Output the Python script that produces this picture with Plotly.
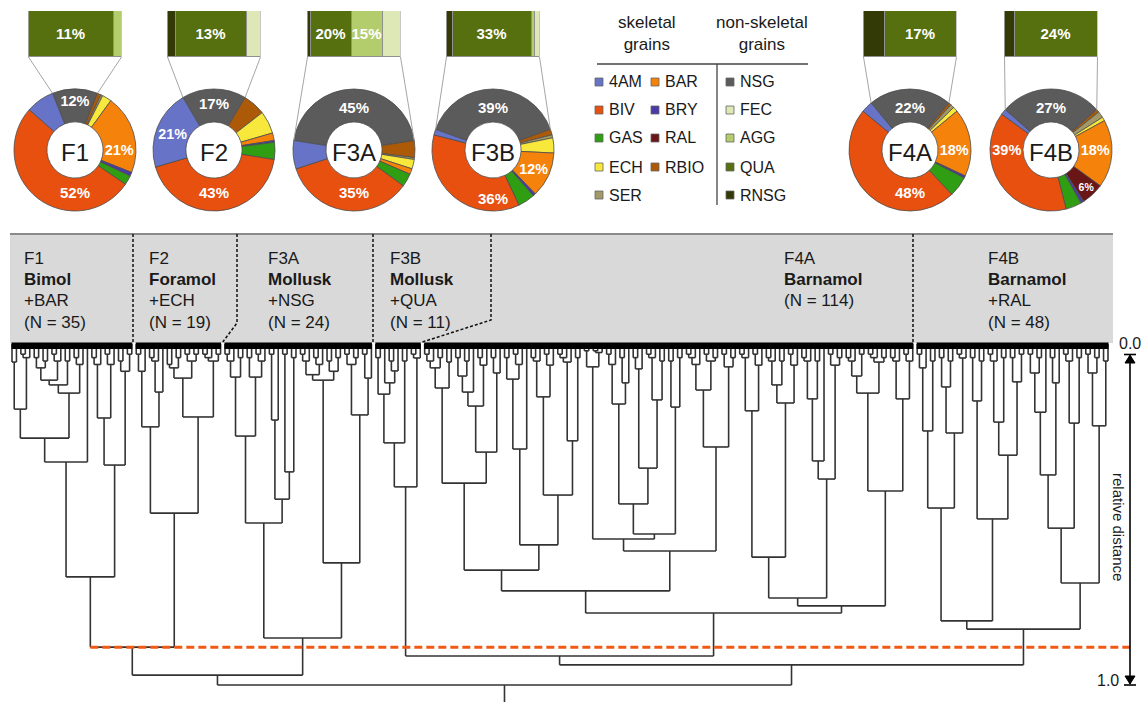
import math
import re
import plotly.graph_objects as go

W, H = 1146, 702
FONT = "Liberation Sans, Arial, Helvetica, sans-serif"
INK = "#1a1a1a"

# ---------------- grain composition of each facies (% of all grains) ----------------
FACIES = ["F1", "F2", "F3A", "F3B", "F4A", "F4B"]
GRAIN_TYPES = ["NSG", "RBIO", "SER", "ECH", "BAR", "RAL", "BRY", "GAS", "BIV", "4AM"]
F1_GRAINS = [12, 1, 0.5, 2.5, 21, 0, 1, 2.5, 52, 7.5]
F2_GRAINS = [17, 6, 0, 6, 2, 0, 0.5, 4.5, 43, 21]
F3A_GRAINS = [45, 4.5, 0.5, 2.5, 1.5, 0, 0, 3.5, 35, 7.5]
F3B_GRAINS = [39, 1.5, 0.8, 4, 12, 0, 0.7, 4.5, 36, 1.5]
F4A_GRAINS = [22, 0.7, 1, 1.3, 18, 0, 0.6, 5.4, 48, 3]
F4B_GRAINS = [27, 0.8, 1.7, 1, 18, 6, 0.8, 4.2, 39, 1.5]
GRAINS = dict(zip(FACIES, [F1_GRAINS, F2_GRAINS, F3A_GRAINS, F3B_GRAINS, F4A_GRAINS, F4B_GRAINS]))

# breakdown of the non-skeletal grains (NSG), % of all grains
NSG_TYPES = ["RNSG", "QUA", "AGG", "FEC"]
F1_NSG = [0, 11, 1, 0]
F2_NSG = [1.5, 13, 0, 2.5]
F3A_NSG = [1.5, 20, 15, 8.5]
F3B_NSG = [2.5, 33, 1.5, 2]
F4A_NSG = [5, 17, 0, 0]
F4B_NSG = [3, 24, 0, 0]
NSG_SPLIT = dict(zip(FACIES, [F1_NSG, F2_NSG, F3A_NSG, F3B_NSG, F4A_NSG, F4B_NSG]))

LABEL_MIN = 10          # slices below this share stay unlabelled ...
ALWAYS_LABEL = {"RAL"}  # ... except the red-algae slice

COLORS = {
    "4AM": "#6673c6", "BAR": "#f5820a", "BIV": "#e8500f", "BRY": "#4a3aa8",
    "GAS": "#2f9e12", "RAL": "#6b1616", "ECH": "#f8e83c", "RBIO": "#ad5a08",
    "SER": "#a39968", "NSG": "#5b5b5b", "FEC": "#dde8b6", "AGG": "#b4cd6c",
    "QUA": "#566f0f", "RNSG": "#333a06",
}

LEGEND_SKELETAL = [["4AM", "BIV", "GAS", "ECH", "SER"], ["BAR", "BRY", "RAL", "RBIO"]]
LEGEND_NON_SKELETAL = ["NSG", "FEC", "AGG", "QUA", "RNSG"]

CLUSTER_TEXT = [
    ["F1", "<b>Bimol</b>", "+BAR", "(N = 35)"],
    ["F2", "<b>Foramol</b>", "+ECH", "(N = 19)"],
    ["F3A", "<b>Mollusk</b>", "+NSG", "(N = 24)"],
    ["F3B", "<b>Mollusk</b>", "+QUA", "(N = 11)"],
    ["F4A", "<b>Barnamol</b>", "(N = 114)"],
    ["F4B", "<b>Barnamol</b>", "+RAL", "(N = 48)"],
]

# ---------------- cluster tree, heights in relative distance ----------------
# 'o' is one sample, "(a,b)h" merges a and b at distance h, {name} inserts a named subtree
TREE = {
    "ROOT": "((({F1},{F2})0.889,{F3A})0.971,(({F3B},{F4A})0.915,{F4B})0.941)1.0",
    # F1
    "F1a": "((o,o)0.053,((o,o)0.03,o)0.04)0.191",
    "F1b": "(((((o,o)0.04,(o,o)0.05)0.07,((o,o)0.03,o)0.05)0.106,(o,o)0.05)0.12,((o,o)0.04,o)0.06)0.144",
    "F1c": "((((o,o)0.04,o)0.06,((o,o)0.03,o)0.06)0.217,((o,o)0.05,(o,o)0.03)0.08)0.355",
    "F1": "((({F1a},{F1b})0.276,o)0.346,{F1c})0.683",
    # F2
    "F2a": "(((o,o)0.03,o)0.08,(((o,o)0.04,o)0.05,o)0.141)0.243",
    "F2b": "((((o,o)0.06,(o,o)0.04)0.07,((o,o)0.03,(o,o)0.03)0.05)0.1,(((o,o)0.03,o)0.04,(o,o)0.03)0.05)0.214",
    "F2": "({F2a},{F2b})0.496",
    # F3A
    "F3Aa": "((((o,o)0.03,o)0.05,(o,o)0.04)0.097,((o,o)0.04,((o,o)0.03,o)0.05)0.097)0.27",
    "F3Ab": "(((o,o)0.03,o)0.223,((o,o)0.03,(o,o)0.04)0.375)0.455",
    "F3Ac": "((((o,o)0.03,o)0.05,((o,o)0.04,o)0.06)0.09,((o,o)0.05,(o,o)0.04)0.08)0.106",
    "F3Ad": "(((o,o)0.03,(o,o)0.04)0.06,((o,o)0.03,o)0.1)0.208",
    "F3A": "(({F3Aa},{F3Ab})0.525,({F3Ac},{F3Ad})0.642)0.862",
    # F3B
    "F3Ba": "((o,o)0.04,(o,((o,o)0.05,o)0.079)0.114)0.147",
    "F3B": "(({F3Ba},(o,o)0.05)0.29,((o,o)0.03,o)0.041)0.419",
    # F4A
    "a388": "((((o,o)0.03,o)0.05,(o,o)0.04)0.07,(o,o)0.053)0.129",
    "a392": "(((o,o)0.04,(o,o)0.05)0.094,o)0.141",
    "a406": "({a392},((o,o)0.04,o)0.062)0.182",
    "a452": "({a406},((o,o)0.04,o)0.085)0.317",
    "a483": "({a388},{a452})0.408",
    "a449": "(((o,o)0.04,((o,o)0.03,o)0.06)0.103,o)0.308",
    "a397": "(((o,o)0.04,o)0.05,((o,o)0.03,o)0.062)0.155",
    "a441": "((((o,o)0.03,o)0.04,o)0.053,(o,o)0.04)0.284",
    "a545": "({a449},({a397},{a441})0.443)0.589",
    "a570": "({a483},{a545})0.663",
    "a367": "((o,o)0.02,((o,o)0.02,o)0.025)0.067",
    "a404": "(((o,o)0.03,o)0.06,((o,o)0.04,o)0.114)0.176",
    "a468": "(((o,o)0.04,o)0.073,(((o,o)0.03,o)0.04,(o,o)0.05)0.164)0.364",
    "a534": "(({a404},{a468})0.469,((o,o)0.05,(o,o)0.04)0.185)0.557",
    "a390": "((((o,o)0.03,o)0.04,o)0.06,((o,o)0.03,(o,o)0.04)0.05)0.135",
    "a447": "({a390},((o,o)0.03,(o,o)0.04)0.067)0.302",
    "a551": "(({a367},{a534})0.572,{a447})0.607",
    "a411": "(((o,o)0.03,o)0.04,((o,o)0.03,o)0.062)0.196",
    "a403": "((((o,o)0.04,o)0.05,(o,o)0.05)0.12,((o,o)0.03,o)0.062)0.173",
    "a461": "((((o,o)0.04,o)0.05,(o,o)0.05)0.161,o)0.343",
    "a598": "(({a411},{a403})0.625,({a461},((o,o)0.03,(o,o)0.04)0.062)0.396)0.745",
    "a393": "((((o,o)0.04,o)0.05,(o,o)0.03)0.094,(((o,o)0.03,o)0.04,(o,o)0.04)0.053)0.144",
    "a399": "(((o,o)0.04,o)0.05,((o,o)0.03,o)0.05)0.161",
    "F4A": "(({a570},{a551})0.724,({a598},({a393},{a399})0.431)0.768)0.789",
    # F4B
    "b431": "(((o,o)0.03,o)0.07,(o,o)0.05)0.255",
    "b433": "(((o,o)0.04,(o,o)0.05)0.126,((o,o)0.03,o)0.041)0.261",
    "b401": "((o,o)0.04,(o,o)0.05)0.167",
    "b455": "((((o,o)0.03,o)0.05,(o,o)0.04)0.229,((o,o)0.04,(o,o)0.03)0.111)0.326",
    "b475": "((((o,o)0.03,(o,o)0.04)0.085,o)0.2,((o,o)0.04,o)0.114)0.384",
    "b423": "(((o,o)0.03,o)0.05,(o,o)0.04)0.232",
    "b428": "(((o,o)0.03,(o,o)0.04)0.085,(o,o)0.05)0.24",
    "F4B": "((({b431},{b433})0.481,({b401},{b455})0.513)0.812,(({b475},{b423})0.54,{b428})0.701)0.836",
}
CUT_DISTANCE = 0.889

# ---------------- layout constants (pixels) ----------------
PIE_CX = [75, 214, 354, 493, 910, 1051]
PIE_CY, PIE_R, PIE_HOLE = 150, 61, 0.46
BAR_W, BAR_TOP, BAR_BOTTOM = 93, 11, 57
LEAF_FIRST_PX, LEAF_LAST_PX = 12, 1108
DIST0_PX, DIST1_PX = 344, 685
BOX_LEFT, BOX_RIGHT, BOX_TOP, BOX_BOTTOM = 10, 1113, 234, 343
CLUSTER_TEXT_X = [22, 147, 266, 388, 782, 986]
CLUSTER_TEXT_Y = [258, 279.5, 301, 322.5]
DIVIDER_TOP_X = [133, 237, 373, 491, 913]
DIVIDER_KNEE_Y = [None, 323, None, 320, None]
AXIS_X = 1130


def px(x, y):
    return x / W, 1 - y / H


# ---------------- tree parsing and layout ----------------
def build(name):
    s = re.sub(r"\s+", "", TREE[name])
    pos = 0

    def node():
        nonlocal pos
        if s[pos] == "(":
            pos += 1
            kids = [node()]
            while s[pos] == ",":
                pos += 1
                kids.append(node())
            pos += 1
            m = re.match(r"\d+(\.\d+)?", s[pos:])
            pos += m.end()
            return {"h": float(m.group()), "kids": kids}
        if s[pos] == "{":
            end = s.index("}", pos)
            ref = s[pos + 1:end]
            pos = end + 1
            sub = build(ref)
            sub["name"] = ref
            return sub
        pos += 1
        return {"h": 0.0, "kids": []}

    return node()


root = build("ROOT")
counter = [0]
named = {}


def place(n):
    if not n["kids"]:
        n["x"] = n["lo"] = n["hi"] = counter[0]
        counter[0] += 1
    else:
        for k in n["kids"]:
            place(k)
        n["x"] = (n["kids"][0]["x"] + n["kids"][-1]["x"]) / 2
        n["lo"], n["hi"] = n["kids"][0]["lo"], n["kids"][-1]["hi"]
    if "name" in n:
        named[n["name"]] = n


place(root)
n_leaves = counter[0]
step = (LEAF_LAST_PX - LEAF_FIRST_PX) / (n_leaves - 1)

xs, ys = [], []


def segments(n):
    for k in n["kids"]:
        xs.extend([k["x"], k["x"], None])
        ys.extend([k["h"], n["h"], None])
        segments(k)
    if n["kids"]:
        xs.extend([n["kids"][0]["x"], n["kids"][-1]["x"], None])
        ys.extend([n["h"], n["h"], None])


segments(root)


def dist_of_px(ypx):
    return (ypx - DIST0_PX) / (DIST1_PX - DIST0_PX)


def leafpos_of_px(xpx):
    return (xpx - LEAF_FIRST_PX) / step


def px_of_leafpos(v):
    return LEAF_FIRST_PX + v * step


# stem from the root down to the lower edge
xs.extend([root["x"], root["x"], None])
ys.extend([root["h"], dist_of_px(H), None])

fig = go.Figure()
fig.add_trace(go.Scatter(x=xs, y=ys, mode="lines", line=dict(color="#333333", width=1.6),
                         hoverinfo="skip", showlegend=False))
fig.add_trace(go.Scatter(x=[named["F1"]["x"], leafpos_of_px(AXIS_X)], y=[CUT_DISTANCE, CUT_DISTANCE],
                         mode="lines", line=dict(color="#f05a14", width=3, dash="8px,4px"),
                         hoverinfo="skip", showlegend=False))

shapes, annotations = [], []

# grey header box with the facies descriptions
x0, y0 = px(BOX_LEFT, BOX_BOTTOM)
x1, y1 = px(BOX_RIGHT, BOX_TOP)
shapes.append(dict(type="rect", xref="paper", yref="paper", x0=x0, x1=x1, y0=y0, y1=y1,
                   fillcolor="#d9d9d9", line=dict(width=0), layer="below"))
shapes.append(dict(type="line", xref="paper", yref="paper", x0=x0, x1=x1, y0=y1, y1=y1,
                   line=dict(color="#8a8a8a", width=2)))

# black bars marking each cluster, dashed separators between them
for fac in FACIES:
    n = named[fac]
    shapes.append(dict(type="rect", xref="x", yref="y", x0=n["lo"] - 0.12, x1=n["hi"] + 0.12,
                       y0=dist_of_px(342.5), y1=dist_of_px(349), fillcolor="black", line=dict(width=0)))
for i in range(len(FACIES) - 1):
    gap = (named[FACIES[i]]["hi"] + named[FACIES[i + 1]]["lo"]) / 2
    bx = px_of_leafpos(gap)
    tx = DIVIDER_TOP_X[i]
    pts = [(tx, BOX_TOP)]
    if DIVIDER_KNEE_Y[i] is not None:
        pts.append((tx, DIVIDER_KNEE_Y[i]))
        pts.append((bx, 342))
    else:
        pts.append((tx, 342))
    path = "M" + " L".join(f"{px(a, b)[0]:.5f},{px(a, b)[1]:.5f}" for a, b in pts)
    shapes.append(dict(type="path", xref="paper", yref="paper", path=path,
                       line=dict(color="#111111", width=1.5, dash="3px,2px")))

for i, lines in enumerate(CLUSTER_TEXT):
    for j, t in enumerate(lines):
        ax, ay = px(CLUSTER_TEXT_X[i], CLUSTER_TEXT_Y[j])
        annotations.append(dict(x=ax, y=ay, xref="paper", yref="paper", text=t, showarrow=False,
                                xanchor="left", yanchor="middle",
                                font=dict(family=FONT, size=17, color=INK)))

# distance scale on the right
ax0, ay0 = px(AXIS_X, 356)
_, ay1 = px(AXIS_X, 684)
shapes.append(dict(type="line", xref="paper", yref="paper", x0=ax0, x1=ax0, y0=ay0, y1=ay1,
                   line=dict(color="black", width=1.6)))
for tip, base, bar in [(355, 363, 354.5), (684, 676, 685)]:
    p = [px(AXIS_X - 5, base), px(AXIS_X, tip), px(AXIS_X + 5, base)]
    shapes.append(dict(type="path", xref="paper", yref="paper",
                       path=f"M{p[0][0]},{p[0][1]} L{p[1][0]},{p[1][1]} L{p[2][0]},{p[2][1]} Z",
                       fillcolor="black", line=dict(color="black", width=1)))
    b0, b1 = px(AXIS_X - 6, bar), px(AXIS_X + 6, bar)
    shapes.append(dict(type="line", xref="paper", yref="paper", x0=b0[0], x1=b1[0], y0=b0[1], y1=b1[1],
                       line=dict(color="black", width=1.6)))
for t, (tx, ty), anchor in [("0.0", (1117, 343), "left"), ("1.0", (1121, 680), "right")]:
    a = px(tx, ty)
    annotations.append(dict(x=a[0], y=a[1], xref="paper", yref="paper", text=t, showarrow=False,
                            xanchor=anchor, yanchor="middle", font=dict(family=FONT, size=16, color=INK)))
a = px(1119, 527)
annotations.append(dict(x=a[0], y=a[1], xref="paper", yref="paper", text="relative distance",
                        showarrow=False, textangle=90, xanchor="center", yanchor="middle",
                        font=dict(family=FONT, size=15, color=INK)))

# ---------------- pies with the NSG breakdown bar above each ----------------
nsg_i = GRAIN_TYPES.index("NSG")
layout_axes = {}
for i, fac in enumerate(FACIES):
    vals = GRAINS[fac]
    cats = [c for c, v in zip(GRAIN_TYPES, vals) if v > 0]
    vs = [v for v in vals if v > 0]
    text = [f"{v:g}%" if (v >= LABEL_MIN or c in ALWAYS_LABEL) else "" for c, v in zip(cats, vs)]
    cx = PIE_CX[i]
    dx0, dy0 = px(cx - PIE_R, PIE_CY + PIE_R)
    dx1, dy1 = px(cx + PIE_R, PIE_CY - PIE_R)
    half = vals[nsg_i] / sum(vals) * 180
    fig.add_trace(go.Pie(
        values=vs, labels=cats, text=text, textinfo="text", sort=False,
        direction="clockwise", rotation=-half, hole=PIE_HOLE,
        marker=dict(colors=[COLORS[c] for c in cats], line=dict(color="#4d4d4d", width=0.8)),
        domain=dict(x=[dx0, dx1], y=[dy0, dy1]),
        textposition="inside", insidetextorientation="horizontal",
        insidetextfont=dict(family=FONT, size=15, color="white", weight="bold"),
        title=dict(text=fac, position="middle center", font=dict(family=FONT, size=24, color=INK)),
        showlegend=False, hoverinfo="skip"))

    k = i + 2
    parts = NSG_SPLIT[fac]
    total = sum(parts)
    for c, v in zip(NSG_TYPES, parts):
        if v <= 0:
            continue
        fig.add_trace(go.Bar(
            x=[v], y=[0], orientation="h", width=1, xaxis=f"x{k}", yaxis=f"y{k}",
            marker=dict(color=COLORS[c], line=dict(color="#8f8f8f", width=1)),
            text=[f"{v:g}%" if v >= LABEL_MIN else ""], textposition="inside",
            insidetextanchor="middle", textangle=0, constraintext="none", cliponaxis=False,
            textfont=dict(family=FONT, size=15, color="white", weight="bold"),
            showlegend=False, hoverinfo="skip"))
    bx0, by0 = px(cx - BAR_W / 2, BAR_BOTTOM)
    bx1, by1 = px(cx + BAR_W / 2, BAR_TOP)
    layout_axes[f"xaxis{k}"] = dict(domain=[bx0, bx1], range=[0, total], visible=False,
                                    anchor=f"y{k}", fixedrange=True)
    layout_axes[f"yaxis{k}"] = dict(domain=[by0, by1], range=[-0.5, 0.5], visible=False,
                                    anchor=f"x{k}", fixedrange=True)

    # connector lines from the bar corners to the edges of the NSG slice
    ang = math.radians(half)
    for sgn in (-1, 1):
        p0 = px(cx + sgn * BAR_W / 2, BAR_BOTTOM)
        p1 = px(cx + sgn * PIE_R * math.sin(ang), PIE_CY - PIE_R * math.cos(ang))
        shapes.append(dict(type="line", xref="paper", yref="paper", x0=p0[0], y0=p0[1], x1=p1[0], y1=p1[1],
                           line=dict(color="#a6a6a6", width=1)))

# ---------------- legend ----------------
hdr = [("skeletal<br>grains", 647), ("non-skeletal<br>grains", 762)]
for t, hx in hdr:
    a = px(hx, 34)
    annotations.append(dict(x=a[0], y=a[1], xref="paper", yref="paper", text=t, showarrow=False,
                            xanchor="center", yanchor="middle", align="center",
                            font=dict(family=FONT, size=17, color=INK)))
r0, r1 = px(597, 64), px(808, 64)
shapes.append(dict(type="line", xref="paper", yref="paper", x0=r0[0], x1=r1[0], y0=r0[1], y1=r1[1],
                   line=dict(color="#444444", width=1.3)))
v0, v1 = px(717, 64), px(717, 205)
shapes.append(dict(type="line", xref="paper", yref="paper", x0=v0[0], x1=v1[0], y0=v0[1], y1=v1[1],
                   line=dict(color="#444444", width=1.3)))
ROW_Y = [82, 110, 138, 167, 195]
columns = [(LEGEND_SKELETAL[0], 599), (LEGEND_SKELETAL[1], 655), (LEGEND_NON_SKELETAL, 730)]
for cats, sx in columns:
    for c, ry in zip(cats, ROW_Y):
        q0, q1 = px(sx - 4, ry + 4), px(sx + 4, ry - 4)
        shapes.append(dict(type="rect", xref="paper", yref="paper", x0=q0[0], x1=q1[0], y0=q0[1], y1=q1[1],
                           fillcolor=COLORS[c], line=dict(color="#666666", width=0.8)))
        a = px(sx + 8, ry)
        annotations.append(dict(x=a[0], y=a[1], xref="paper", yref="paper", text=c, showarrow=False,
                                xanchor="left", yanchor="middle", font=dict(family=FONT, size=16, color=INK)))

fig.update_layout(
    width=W, height=H, margin=dict(l=0, r=0, t=0, b=0),
    paper_bgcolor="white", plot_bgcolor="rgba(0,0,0,0)",
    barmode="stack", bargap=0,
    xaxis=dict(domain=[0, 1], range=[leafpos_of_px(0), leafpos_of_px(W)], visible=False, fixedrange=True),
    yaxis=dict(domain=[0, 1], range=[dist_of_px(H), dist_of_px(0)], visible=False, fixedrange=True),
    shapes=shapes, annotations=annotations,
    **layout_axes,
)
fig.write_html("out.html")
